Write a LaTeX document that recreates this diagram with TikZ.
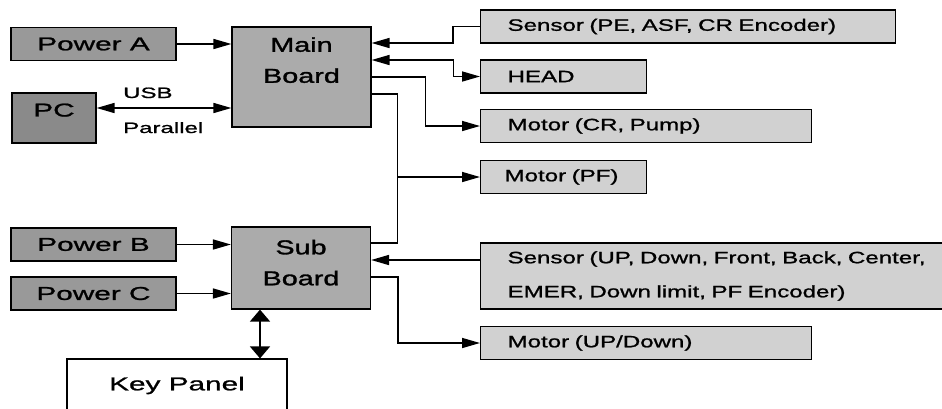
\documentclass[tikz,border=0pt]{standalone}
\usepackage{fontspec}
\setmainfont{Liberation Sans}
\newfontfamily\boardfont[FakeStretch=1.44,FakeBold=1.5]{Liberation Sans}
\newfontfamily\leftfont[FakeStretch=1.6,FakeBold=1.2]{Liberation Sans}
\newfontfamily\rightfont[FakeStretch=1.46,FakeBold=1.2]{Liberation Sans}
\usepackage{tikz}
\usetikzlibrary{arrows.meta}
\usetikzlibrary{positioning}
\definecolor{powergray}{gray}{0.6}
\definecolor{pcgray}{gray}{0.54}
\definecolor{boardgray}{gray}{0.67}
\definecolor{unitgray}{gray}{0.82}

\begin{document}
\begin{tikzpicture}[x=1pt,y=-1pt]
            \tikzset{power/.style={draw, line width=1.2pt, fill=powergray, minimum width=165pt, minimum height=33pt, inner sep=0pt, font=\leftfont\fontsize{18.6}{22}\selectfont},
                    board/.style={draw, line width=1.2pt, fill=boardgray, minimum width=139pt, align=center, inner sep=0pt, font=\boardfont\fontsize{20}{31}\selectfont},
                    unit/.style={draw, line width=1.2pt, fill=unitgray, minimum height=33pt, inner xsep=27pt, inner ysep=0pt, text width=#1, align=left, anchor=west, font=\rightfont\fontsize{16.5}{20}\selectfont},
                    bus label/.style={anchor=base west, inner sep=0pt, font=\leftfont\fontsize{15}{18}\selectfont},
                    wire/.style={line width=1.6pt},
                    >={Triangle[length=18pt,width=10pt]}}
            \useasboundingbox (0,0) rectangle (942,408);
            % left side
            \node[power] (powerA) at (93.5,44) {Power A};
            \node[power, fill=pcgray, minimum width=84pt, minimum height=50pt] (pc) at (54,118) {PC\rule[-16pt]{0pt}{0pt}};
            \node[power] (powerB) at (93.5,244.5) {Power B};
            \node[power] (powerC) at (93.5,293.5) {Power C};
            \node[power, fill=white, minimum width=220pt, minimum height=53pt] (key) at (177,385.5) {Key Panel};
            \node[bus label] (usb) at (123,98) {USB};
            \node[bus label] (parallel) at (123,133) {Parallel};
            % boards
            \node[board, minimum height=100pt] (main) at (301.5,77) {Main\\Board\rule[-34pt]{0pt}{0pt}};
            \node[board, minimum height=82pt] (sub) at (301,268) {Sub\\Board\rule[-11pt]{0pt}{0pt}};
            % right side
            \node[unit=361pt] (sensorA) at (480,26.5) {Sensor (PE, ASF, CR Encoder)};
            \node[unit=112pt] (head) at (480,76.5) {HEAD};
            \node[unit=277pt] (motorCR) at (480,126) {Motor (CR, Pump)};
            \node[unit=118pt, inner xsep=24pt] (motorPF) at (480,177) {Motor (PF)};
            \node[unit=440pt, minimum height=66pt] (sensorB) at (480,276) {Sensor (UP, Down, Front, Back, Center,\\[14pt]EMER, Down limit, PF Encoder)};
            \node[unit=277pt] (motorUD) at (480,343) {Motor (UP/Down)};
            % connections
            \draw[wire, ->] (powerA.east) -- (powerA.east -| main.west);
            \draw[wire, <->] ([yshift=10pt]pc.east) -- ([yshift=10pt]pc.east -| main.west);
            \draw[wire, ->] (sensorA.west) -- ++(-27,0) |- ([yshift=34pt]main.east);
            \draw[wire, <->] ([yshift=17pt]main.east) -- ++(82,0) |- (head.west);
            \draw[wire, ->] (main.east) -- ++(54,0) |- (motorCR.west);
            \draw[wire] ([yshift=-17pt]main.east) -- ++(26,0) coordinate (bus) |- ([yshift=25pt]sub.east);
            \draw[wire, ->] (bus |- motorPF.west) -- (motorPF.west);
            \draw[wire, ->] (powerB.east) -- (powerB.east -| sub.west);
            \draw[wire, ->] (powerC.east) -- (powerC.east -| sub.west);
            \draw[wire, ->] ([yshift=16pt]sensorB.west) -- ([yshift=16pt]sensorB.west -| sub.east);
            \draw[wire, ->] ([yshift=-9pt]sub.east) -- ++(27,0) |- (motorUD.west);
            \draw[wire, <->, >={Triangle[length=12pt,width=20pt]}] ([xshift=-41pt]sub.south) -- ([xshift=-41pt]sub.south |- key.north);
        \end{tikzpicture}
\end{document}
